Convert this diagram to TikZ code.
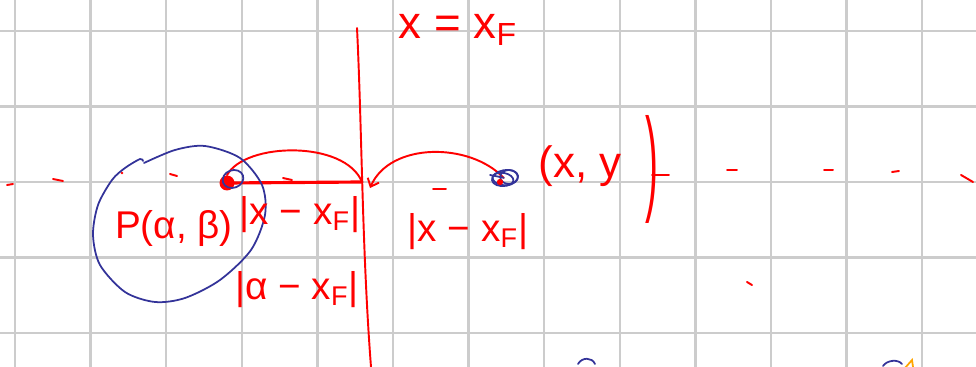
\documentclass[tikz,border=0pt]{standalone}
\usepackage{fontspec}
\setmainfont{Liberation Sans}
\usetikzlibrary{arrows.meta, shapes.geometric, calc}
\definecolor{gridgray}{RGB}{204,204,204}
\definecolor{penred}{RGB}{255,0,0}
\definecolor{penblue}{RGB}{51,51,153}
\definecolor{penorange}{RGB}{255,165,0}

\begin{document}
\begin{tikzpicture}[
        x=0.02cm, y=-0.02cm,
        gridline/.style={draw=gridgray, line width=1.4pt},
        redpen/.style={draw=penred, line width=1.1pt, line cap=round},
        bluepen/.style={draw=penblue, line width=1pt, line cap=round},
        handtext/.style={text=penred, font=\fontsize{22}{26}\selectfont, inner sep=0pt},
        pointdot/.style={circle, fill=penred, inner sep=0pt, minimum size=0.3cm},
        arrowpen/.style={redpen, -{Straight Barb[length=4pt, width=7pt]}}
    ]
    \useasboundingbox[fill=white] (0,0) rectangle (976,367);
    \foreach \gx in {0,...,12}
        \draw[gridline] (15+75.6*\gx,0) -- (15+75.6*\gx,367);
    \foreach \gy in {0,...,4}
        \draw[gridline] (0,31+75.5*\gy) -- (976,31+75.5*\gy);

    % directrix and points
    \coordinate (top) at (357,28);
    \coordinate (bottom) at (371,367);
    \coordinate (foot) at (362,182);
    \coordinate (footR) at (370,188);
    \node[pointdot] (P) at (227,183) {};
    \node[inner sep=0pt] (Q) at (505,178) {};

    \draw[redpen] (top) .. controls (362,130) and (362,250) .. (bottom);
    \draw[redpen, line width=1.8pt] (P.center) -- (foot);
    \draw[redpen] (P.north) .. controls (245,142) and (345,140) .. (foot);
    \draw[arrowpen] (Q.west) .. controls (470,142) and (390,142) .. (footR);

    % blue circle and scribbles
    \draw[bluepen] plot[smooth] coordinates {(144,163) (175,150) (205,146) (240,158) (262,185) (265,215) (251,250) (220,280) (185,298) (155,302) (125,292) (100,265) (93,235) (98,205) (112,180) (125,168) (140,159) (143,161)};
    \draw[bluepen] (233,179) ellipse [x radius=6pt, y radius=5pt, rotate=20];
    \draw[bluepen] (Q) ellipse [x radius=7.5pt, y radius=4.5pt, rotate=10];
    \draw[bluepen] ($(Q)+(4,-1)$) ellipse [x radius=5pt, y radius=4pt];
    \draw[bluepen] ($(Q)+(-2,1)$) ellipse [x radius=6pt, y radius=3.5pt, rotate=-10];
    \draw[bluepen] (490,175) -- (Q);
    \fill[penred] (500,182) circle (1.8pt);

    % labels
    \node[handtext, font=\fontsize{26}{30}\selectfont] (xF) at (458,30) {x = x\textsubscript{F}};
    \node[handtext] (Plabel) at (174,229) {P(α, β)};
    \node[handtext] (dxP) at (300,215) {|x − x\textsubscript{F}|};
    \node[handtext] (dalpha) at (297,290) {|α − x\textsubscript{F}|};
    \node[handtext] (dxQ) at (468,232) {|x − x\textsubscript{F}|};
    \node[handtext, font=\fontsize{25}{30}\selectfont] (Qlabel) at (580,166) {(x, y};
    \node[handtext] (bigparen) at (652,169) {\scalebox{1}[3]{)}};

    % dashes along the axis
    \foreach \a/\b/\c/\d in {7/185/13/184, 53/179/63/181, 170/174/177/176, 283/178/292/180,
            433/189/446/189, 652/175/669/175, 727/170/737/170, 824/170/833/170,
            892/172/899/171, 961/175/973/182, 747/282/752/285}
        \draw[redpen] (\a,\b) -- (\c,\d);
    \fill[penred] (122,173) circle (0.8pt);

    % cut-off marks at the bottom
    \draw[bluepen] (578,364) .. controls (582,357) and (592,357) .. (595,364);
    \draw[bluepen] (883,366) .. controls (887,360) and (898,359) .. (902,364);
    \draw[draw=penorange, line width=1pt] (905,368) -- (912,360) -- (913,367);
\end{tikzpicture}
\end{document}
